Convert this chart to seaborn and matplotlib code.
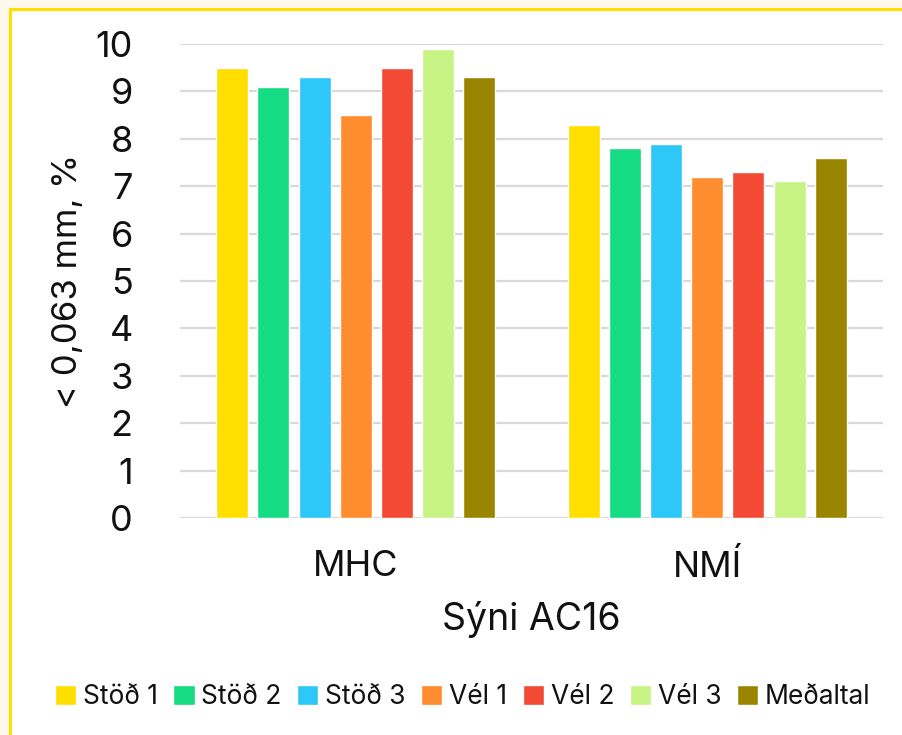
import matplotlib
matplotlib.use("Agg")
import matplotlib.pyplot as plt
from matplotlib.patches import Rectangle
import seaborn as sns
import pandas as pd

# Data
samples = ["MHC", "NMÍ"]
series = ["Stöð 1", "Stöð 2", "Stöð 3", "Vél 1", "Vél 2", "Vél 3", "Meðaltal"]
mhc_values = [9.5, 9.1, 9.3, 8.5, 9.5, 9.9, 9.3]
nmi_values = [8.3, 7.8, 7.9, 7.2, 7.3, 7.1, 7.6]
colors = ["#FFDE00", "#15DC83", "#2DC8F7", "#FF8C2E", "#F24A35", "#C8F385", "#998500"]
y_ticks = list(range(0, 11))

df = pd.DataFrame({
    "sample": [samples[0]] * len(series) + [samples[1]] * len(series),
    "series": series * 2,
    "value": mhc_values + nmi_values,
})

sns.set_theme(style="white")
plt.rcParams["font.family"] = ["Inter", "DejaVu Sans"]

W, H = 902, 735
fig = plt.figure(figsize=(W / 100, H / 100), dpi=100)
fig.patch.set_facecolor("#FEF9EC")

# White panel with yellow frame, behind everything else
panel = Rectangle((10 / W, -0.2), 1.5, 1.2 - 9 / H,
                  transform=fig.transFigure, facecolor="white",
                  edgecolor="#FFDE00", linewidth=2.2, zorder=-10)
fig.patches.append(panel)

ax = fig.add_axes([180 / W, 1 - 518 / H, (883 - 180) / W, (518 - 44) / H])
ax.set_facecolor("none")
ax.set_zorder(1)

sns.barplot(data=df, x="sample", y="value", hue="series", order=samples,
            hue_order=series, palette=colors, width=0.82, gap=0.22,
            edgecolor="white", linewidth=1, saturation=1, ax=ax, zorder=3)

ax.set_ylim(0, 10)
ax.set_yticks(y_ticks)
ax.set_yticklabels([str(t) for t in y_ticks])
ax.yaxis.grid(True, color="#D9D9D9", linewidth=1.6, zorder=0)
ax.set_axisbelow(True)
for s in ax.spines.values():
    s.set_visible(False)
ax.tick_params(axis="y", length=0, pad=34, labelsize=26, labelcolor="#111111")
ax.tick_params(axis="x", length=0, pad=23, labelsize=26, labelcolor="#111111")
ax.set_xlabel("Sýni AC16", fontsize=27, color="#111111", labelpad=12)
ax.set_ylabel("< 0,063 mm, %", fontsize=25, color="#111111", labelpad=8)

handles, labels = ax.get_legend_handles_labels()
ax.get_legend().remove()
fig.legend(handles, labels, loc="center", bbox_to_anchor=(0.513, 1 - 697 / H),
           ncol=7, frameon=False, fontsize=19, handlelength=0.8,
           handleheight=0.8, handletextpad=0.25, columnspacing=0.6,
           labelcolor="#111111")

fig.savefig("out.png", dpi=100, facecolor=fig.get_facecolor())
